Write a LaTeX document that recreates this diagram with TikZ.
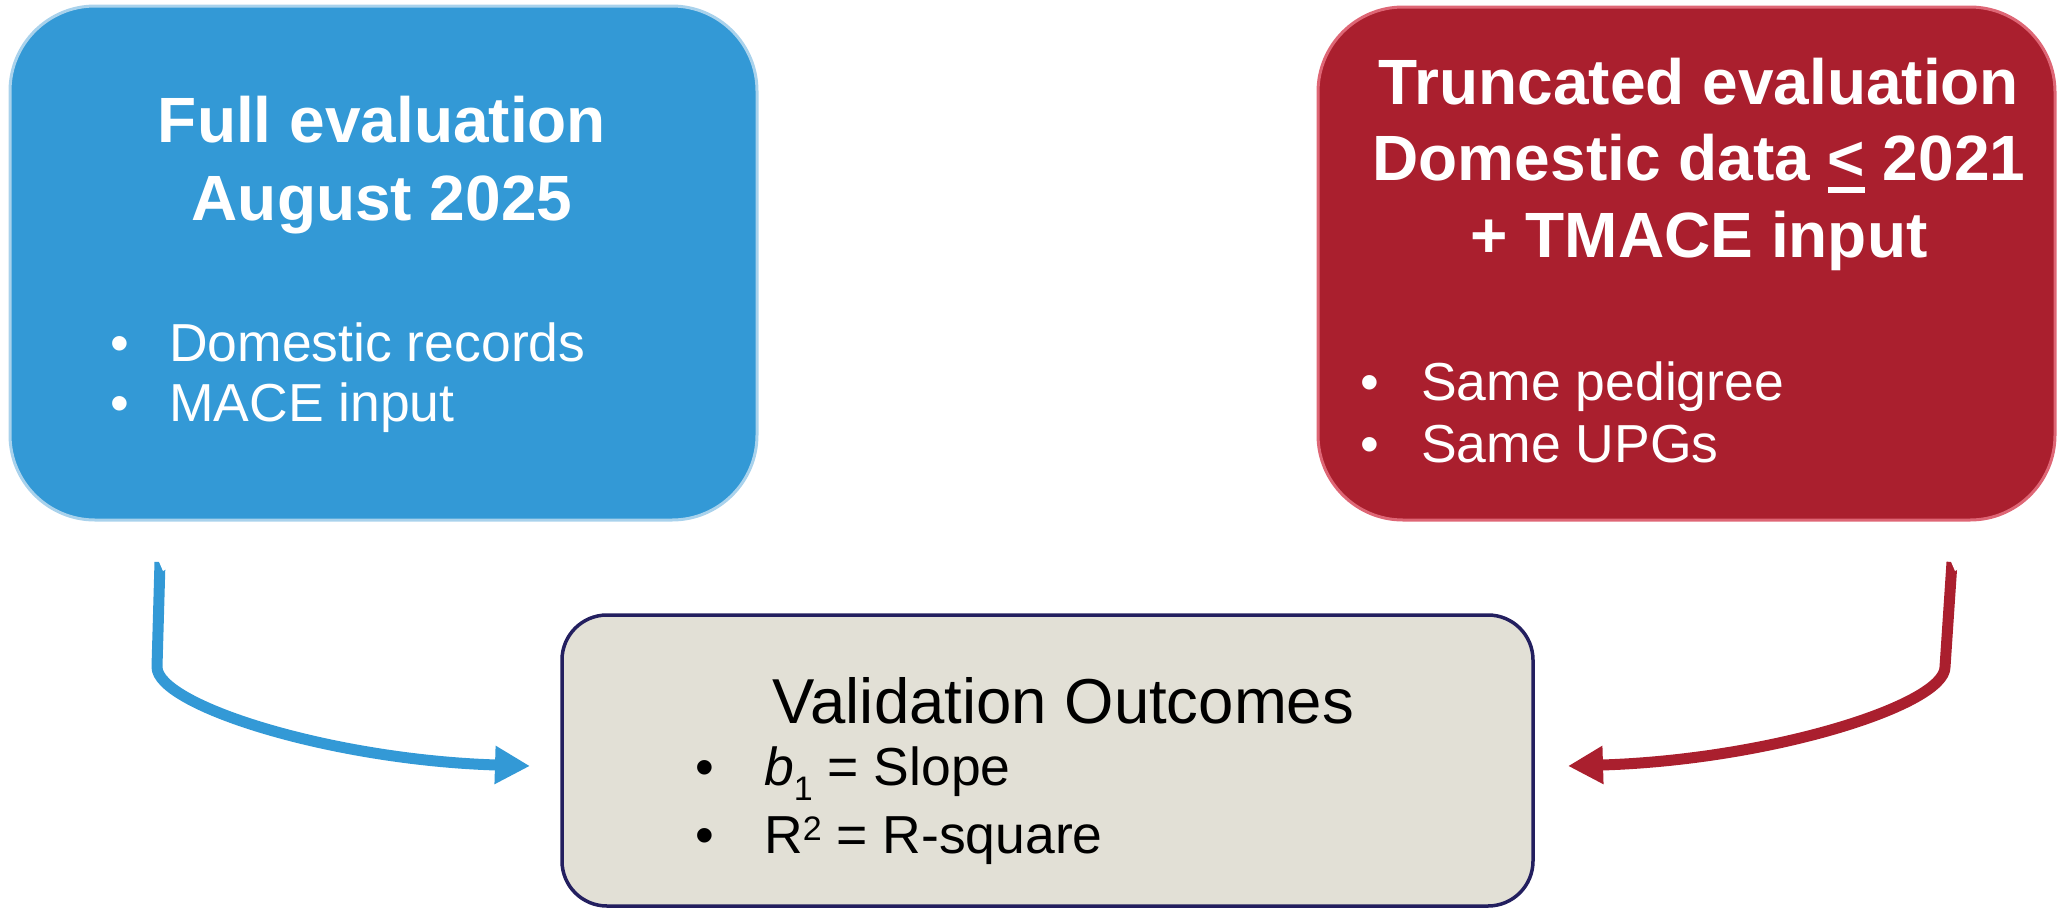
\documentclass[tikz,border=0pt]{standalone}
\usepackage{fontspec}
\setmainfont{Liberation Sans}
\usetikzlibrary{arrows.meta}

\definecolor{evalblue}{HTML}{3399D6}
\definecolor{evalblueedge}{HTML}{A9D2EC}
\definecolor{evalred}{HTML}{AA1F2E}
\definecolor{evalrededge}{HTML}{DE6675}
\definecolor{outcomefill}{HTML}{E2E0D6}
\definecolor{outcomeedge}{HTML}{231F5F}

\begin{document}
\begin{tikzpicture}[x=1pt, y=-1pt,
  panel/.style={draw, line width=3pt, rounded corners=85pt, inner sep=0pt, outer sep=0pt},
  titletext/.style={anchor=base, inner sep=0pt, text=white,
    font=\fontsize{64}{77}\selectfont\bfseries},
  itemtext/.style={anchor=base west, inner sep=0pt,
    font=\fontsize{53.5}{64}\selectfont},
  bulletmark/.style={anchor=base, inner sep=0pt,
    font=\fontsize{53.5}{64}\selectfont},
  flow/.style={line width=11pt, line join=round,
    -{Triangle[length=35pt, width=36pt]}},
  notch/.style={fill=white}
]
\useasboundingbox (0,0) rectangle (2059,908);

% ---- panels ----
\node[panel, fill=evalblue, draw=evalblueedge,
      minimum width=747pt, minimum height=514pt] (full) at (383.5,263) {};
\node[panel, fill=evalred, draw=evalrededge,
      minimum width=737pt, minimum height=513pt] (trunc) at (1686.5,263.5) {};
\node[panel, rounded corners=45pt, line width=3.5pt, fill=outcomefill, draw=outcomeedge,
      minimum width=971pt, minimum height=291pt] (outc) at (1047.5,760.5) {};

% ---- full evaluation ----
\node[titletext] (fullA) at (382,142) {Full evaluation};
\node[titletext] (fullB) at (382,220) {August 2025};
\node[bulletmark, text=white] (fullDotA) at (120,361) {•};
\node[itemtext, text=white] (fullItemA) at (169,361) {Domestic records};
\node[bulletmark, text=white] (fullDotB) at (120,421) {•};
\node[itemtext, text=white] (fullItemB) at (169,421) {MACE input};

% ---- truncated evaluation ----
\node[titletext] (truncA) at (1699,104) {Truncated evaluation};
\node[titletext] (truncB) at (1699,180)
  {Domestic data \rlap{\rule[-13pt]{37.4pt}{6pt}}< 2021};
\node[titletext] (truncC) at (1699,257) {+ TMACE input};
\node[bulletmark, text=white] (truncDotA) at (1370,400) {•};
\node[itemtext, text=white] (truncItemA) at (1421,400) {Same pedigree};
\node[bulletmark, text=white] (truncDotB) at (1370,462) {•};
\node[itemtext, text=white] (truncItemB) at (1421,462) {Same UPGs};

% ---- validation outcomes ----
\node[anchor=base, inner sep=0pt, font=\fontsize{63.5}{76}\selectfont]
  (outcTitle) at (1063.5,723) {Validation Outcomes};
\node[bulletmark] (outcDotA) at (705,785) {•};
\node[itemtext] (outcItemA) at (764,785)
  {{\itshape b}\raisebox{-15pt}{\fontsize{34}{34}\selectfont 1} = Slope};
\node[bulletmark] (outcDotB) at (705,853) {•};
\node[itemtext] (outcItemB) at (764,853)
  {R\raisebox{13pt}{\fontsize{34}{34}\selectfont 2} = R-square};

% ---- connectors ----
\coordinate (bTail) at (160,562);
\coordinate (bBend) at (157,667);
\coordinate (bTip)  at (530,766);
\draw[flow, color=evalblue] (bTail) -- (bBend)
  .. controls (157,705) and (330,760) .. (bTip);
\fill[notch, shift={(bTail)}] (-3,-5) -- (10,-5) -- (10,5) -- (3,9) -- cycle;

\coordinate (rTail) at (1952,562);
\coordinate (rBend) at (1945,667);
\coordinate (rTip)  at (1568,766);
\draw[flow, color=evalred] (rTail) -- (rBend)
  .. controls (1945,705) and (1770,760) .. (rTip);
\fill[notch, shift={(rTail)}] (-3,-5) -- (10,-5) -- (10,5) -- (3,9) -- cycle;
\end{tikzpicture}
\end{document}
